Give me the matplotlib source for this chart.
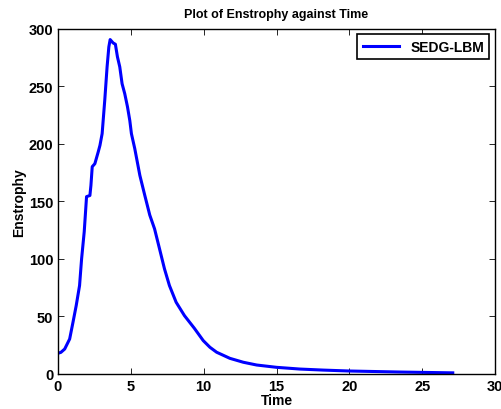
import matplotlib
matplotlib.use('Agg')
import matplotlib.pyplot as plt

plt.rcParams['font.family'] = ['Liberation Sans', 'DejaVu Sans']
plt.rcParams['font.weight'] = 'bold'

# values
time = [0.0, 0.2, 0.46, 0.8, 1.03, 1.25, 1.48, 1.62, 1.8,
        1.96, 2.19, 2.26, 2.35, 2.53, 2.76, 2.88, 3.03, 3.21, 3.37, 3.49,
        3.58, 3.78, 3.94, 4.08, 4.24, 4.4, 4.58, 4.77, 4.93, 5.04, 5.27,
        5.62, 5.96, 6.3, 6.63, 6.97, 7.31, 7.65, 8.11, 8.68, 9.36, 9.97,
        10.43, 10.89, 11.8, 12.72, 13.64, 15.0, 16.6, 18.2, 20.0, 23.5, 27.1]
enstrophy = [18.0, 18.8, 21.7, 30.4, 45, 59.4, 76.8, 100, 123.5,
             154, 155, 163.7, 180, 182.6, 192.8, 198.5, 208.7, 237.7, 266.7, 284,
             290.4, 287.5, 286.3, 275.4, 266.7, 252, 243.5, 232, 220, 208.7, 195.7,
             172.4, 155, 138, 126, 108.7, 91.3, 76.8, 62.3, 50.7, 39.7, 29,
             23.2, 18.9, 13.6, 10.2, 7.8, 5.8, 4.3, 3.4, 2.6, 1.7, 1.0]

fig = plt.figure(figsize=(5.01, 4.10), dpi=100)
ax = fig.add_axes([58 / 501, 35 / 410, 437 / 501, 345.5 / 410])
ax.plot(time, enstrophy, color='#0000ff', linewidth=2.2, label='SEDG-LBM')

ax.set_xlim(0, 30)
ax.set_ylim(0, 300)
ax.set_xticks(range(0, 31, 5))
ax.set_yticks(range(0, 301, 50))
ax.tick_params(direction='in', top=True, right=True, labelsize=10.5, length=4, width=0.6)
for lab in ax.get_xticklabels() + ax.get_yticklabels():
    lab.set_fontweight('bold')
for s in ax.spines.values():
    s.set_linewidth(1.0)

ax.set_title('Plot of Enstrophy against Time', fontsize=9, fontweight='bold', pad=8)
ax.set_xlabel('Time', fontsize=10, fontweight='bold', labelpad=0)
ax.set_ylabel('Enstrophy', fontsize=10, fontweight='bold', labelpad=2)

leg = ax.legend(loc='upper right', fontsize=10, fancybox=False, framealpha=1,
                edgecolor='black', borderaxespad=0.4, handlelength=2.6)
leg.get_frame().set_linewidth(1.2)

fig.savefig('out.png', dpi=100)
